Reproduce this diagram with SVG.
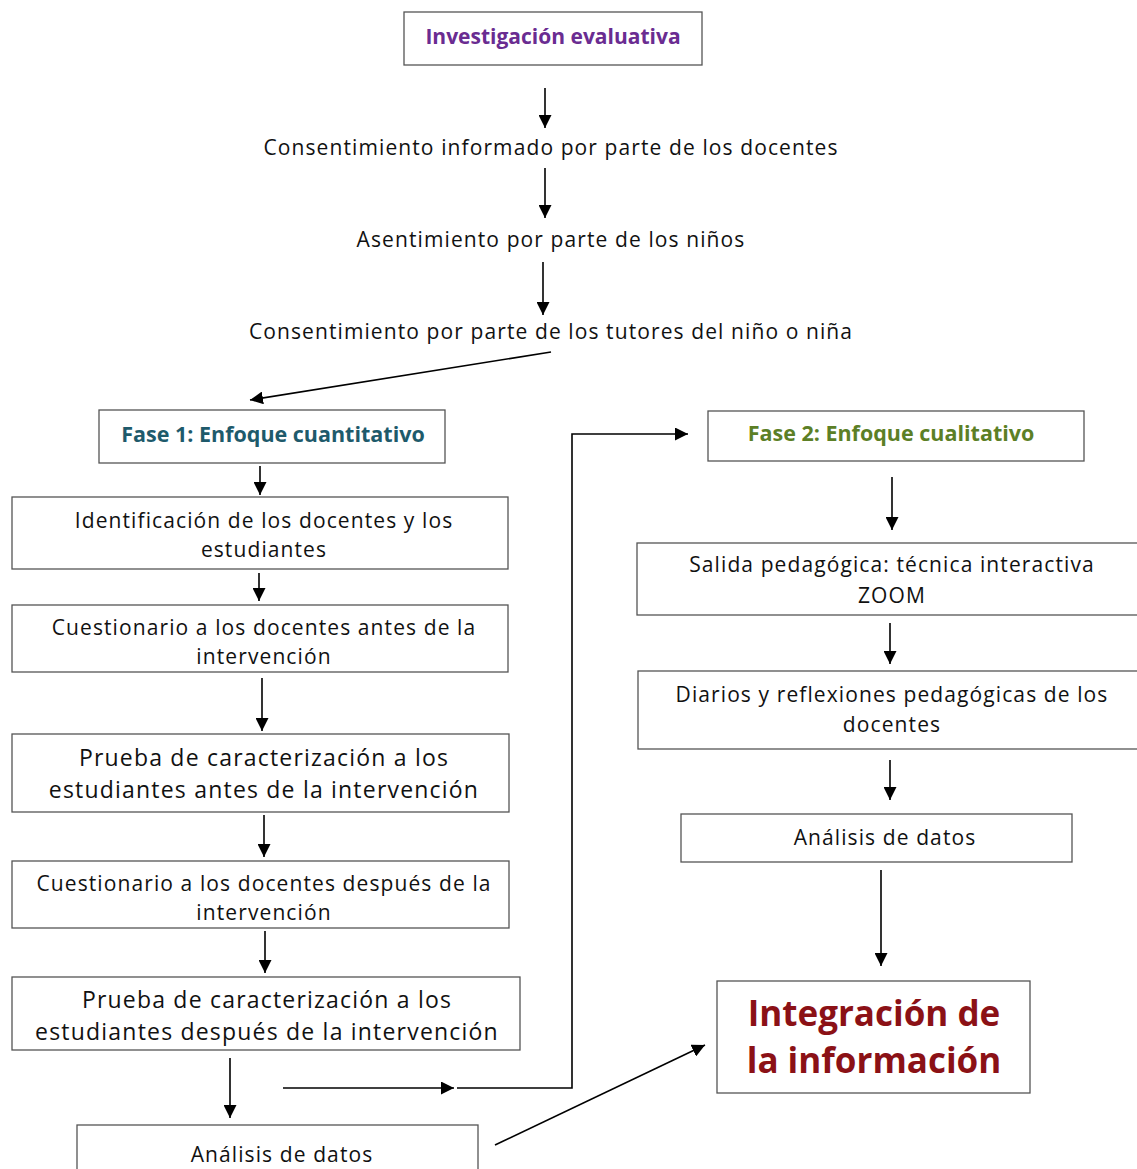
<svg xmlns="http://www.w3.org/2000/svg" width="1137" height="1169" viewBox="0 0 1137 1169">
<defs>
<marker id="ah" viewBox="0 0 10 10" refX="10" refY="5" markerWidth="13" markerHeight="13" markerUnits="userSpaceOnUse" orient="auto">
<path d="M0,0 L10,5 L0,10 z" fill="#000"/>
</marker>
</defs>
<style>
.box{fill:#fff;stroke:#555;stroke-width:1.3}
.t{font-family:"Open Sans","DejaVu Sans",sans-serif;font-size:21px;letter-spacing:1.1px;fill:#111;text-anchor:middle}
.tl{font-size:23px;letter-spacing:1.2px}
.h{font-family:"Open Sans","DejaVu Sans",sans-serif;font-weight:bold;text-anchor:middle}
.c{stroke:#000;stroke-width:1.6;fill:none}
.ca{stroke:#000;stroke-width:1.6;fill:none;marker-end:url(#ah)}
</style>
<rect width="1137" height="1169" fill="#fff"/>

<g id="connectors">
<line class="ca" x1="545" y1="88" x2="545" y2="128"/>
<line class="ca" x1="545" y1="168" x2="545" y2="218"/>
<line class="ca" x1="543" y1="262" x2="543" y2="315"/>
<line class="ca" x1="551" y1="352" x2="250" y2="400"/>
<line class="ca" x1="260" y1="466" x2="260" y2="495"/>
<line class="ca" x1="259" y1="573" x2="259" y2="601"/>
<line class="ca" x1="262" y1="678" x2="262" y2="731"/>
<line class="ca" x1="264" y1="815" x2="264" y2="857"/>
<line class="ca" x1="265" y1="931" x2="265" y2="973"/>
<line class="ca" x1="230" y1="1058" x2="230" y2="1118"/>
<line class="ca" x1="283" y1="1088" x2="454" y2="1088"/>
<polyline class="ca" points="457,1088 572,1088 572,434 688,434"/>
<line class="ca" x1="495" y1="1145" x2="705" y2="1045"/>
<line class="ca" x1="892" y1="477" x2="892" y2="530"/>
<line class="ca" x1="890" y1="623" x2="890" y2="664"/>
<line class="ca" x1="890" y1="760" x2="890" y2="800"/>
<line class="ca" x1="881" y1="870" x2="881" y2="966"/>
</g>

<g id="n-investigacion">
<rect class="box" x="404" y="12" width="298" height="53"/>
<text class="h" x="553" y="44" font-size="21" fill="#6A2C91">Investigación evaluativa</text>
</g>
<g id="n-consentimiento-docentes">
<text class="t" x="551" y="155">Consentimiento informado por parte de los docentes</text>
</g>
<g id="n-asentimiento">
<text class="t" x="551" y="247">Asentimiento por parte de los niños</text>
</g>
<g id="n-consentimiento-tutores">
<text class="t" x="551" y="339">Consentimiento por parte de los tutores del niño o niña</text>
</g>

<g id="n-fase1">
<rect class="box" x="99" y="410" width="346" height="53"/>
<text class="h" x="273" y="442" font-size="21.5" fill="#1E5A6B">Fase 1: Enfoque cuantitativo</text>
</g>
<g id="n-identificacion">
<rect class="box" x="12" y="497" width="496" height="72"/>
<text class="t" x="264" y="528">Identificación de los docentes y los</text>
<text class="t" x="264" y="557">estudiantes</text>
</g>
<g id="n-cuestionario-antes">
<rect class="box" x="12" y="605" width="496" height="67"/>
<text class="t" x="264" y="635">Cuestionario a los docentes antes de la</text>
<text class="t" x="264" y="664">intervención</text>
</g>
<g id="n-prueba-antes">
<rect class="box" x="12" y="734" width="497" height="78"/>
<text class="t tl" x="264" y="766">Prueba de caracterización a los</text>
<text class="t tl" x="264" y="798">estudiantes antes de la intervención</text>
</g>
<g id="n-cuestionario-despues">
<rect class="box" x="12" y="861" width="497" height="67"/>
<text class="t" x="264" y="891">Cuestionario a los docentes después de la</text>
<text class="t" x="264" y="920">intervención</text>
</g>
<g id="n-prueba-despues">
<rect class="box" x="12" y="977" width="508" height="73"/>
<text class="t tl" x="267" y="1008">Prueba de caracterización a los</text>
<text class="t tl" x="267" y="1040">estudiantes después de la intervención</text>
</g>
<g id="n-analisis-1">
<rect class="box" x="77" y="1125" width="401" height="60"/>
<text class="t" x="282" y="1162">Análisis de datos</text>
</g>

<g id="n-fase2">
<rect class="box" x="708" y="411" width="376" height="50"/>
<text class="h" x="891" y="441" font-size="21.5" fill="#5C7F26">Fase 2: Enfoque cualitativo</text>
</g>
<g id="n-salida">
<rect class="box" x="637" y="543" width="510" height="72"/>
<text class="t" x="892" y="572">Salida pedagógica: técnica interactiva</text>
<text class="t" x="892" y="603">ZOOM</text>
</g>
<g id="n-diarios">
<rect class="box" x="638" y="671" width="510" height="78"/>
<text class="t" x="892" y="702">Diarios y reflexiones pedagógicas de los</text>
<text class="t" x="892" y="732">docentes</text>
</g>
<g id="n-analisis-2">
<rect class="box" x="681" y="814" width="391" height="48"/>
<text class="t" x="885" y="845">Análisis de datos</text>
</g>
<g id="n-integracion">
<rect class="box" x="717" y="981" width="313" height="112"/>
<text class="h" x="874" y="1026" font-size="35" fill="#8B1116">Integración de</text>
<text class="h" x="874" y="1073" font-size="35" fill="#8B1116">la información</text>
</g>
</svg>
